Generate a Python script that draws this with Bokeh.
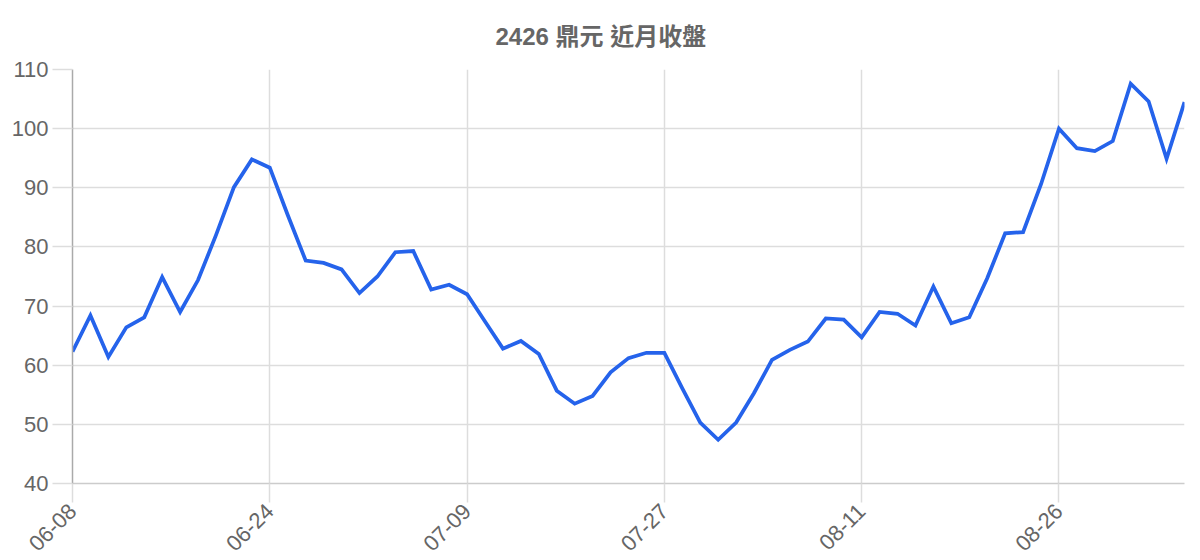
import math
from bokeh.plotting import figure
from bokeh.models import FixedTicker, Range1d, ColumnDataSource
from bokeh.embed import file_html
from bokeh.resources import INLINE

title_text = "2426 鼎元 近月收盤"
tick_idx = [0, 11, 22, 33, 44, 55]
tick_labels = ["06-08", "06-24", "07-09", "07-27", "08-11", "08-26"]
closes = [62.3, 68.4, 61.4, 66.4, 68.1, 74.9, 69.0, 74.4, 82.0, 90.1,
          94.8, 93.4, 85.4, 77.7, 77.3, 76.2, 72.2, 75.0, 79.1, 79.3,
          72.8, 73.6, 72.0, 67.4, 62.8, 64.1, 61.9, 55.7, 53.5, 54.8,
          58.8, 61.2, 62.1, 62.1, 56.1, 50.3, 47.4, 50.3, 55.3, 60.9,
          62.6, 64.0, 67.9, 67.7, 64.7, 69.0, 68.7, 66.7, 73.3, 67.1,
          68.1, 74.7, 82.3, 82.5, 90.6, 100.0, 96.7, 96.2, 97.9, 107.6,
          104.6, 94.9, 104.5]
y_ticks = [40, 50, 60, 70, 80, 90, 100, 110]

FONT = "Liberation Sans, Noto Sans CJK TC"

src = ColumnDataSource(dict(x=list(range(len(closes))), y=closes))

p = figure(width=1192, height=560, output_backend="svg", toolbar_location=None,
           x_range=Range1d(0, len(closes) - 1), y_range=Range1d(40, 110),
           min_border_left=72, min_border_right=8, min_border_top=69, min_border_bottom=76)
p.outline_line_color = None
p.background_fill_color = "white"
p.border_fill_color = "white"

p.title.text = title_text
p.title.align = "left"
p.title.text_font = FONT
p.title.text_font_size = "24px"
p.title.text_font_style = "bold"
p.title.text_color = "#666666"
p.title.standoff = 40
p.title.offset = 423

p.line("x", "y", source=src, line_color="#2563eb", line_width=3.75, line_join="miter")

p.xaxis.ticker = FixedTicker(ticks=tick_idx)
p.xaxis.major_label_overrides = {i: l for i, l in zip(tick_idx, tick_labels)}
p.xaxis.major_label_orientation = math.pi / 4
p.yaxis.ticker = FixedTicker(ticks=y_ticks)

for ax in (p.xaxis, p.yaxis):
    ax.major_label_text_font = FONT
    ax.major_label_text_font_size = "22px"
    ax.major_label_text_color = "#666666"
    ax.minor_tick_line_color = None
    ax.major_tick_in = 0
    ax.major_tick_line_color = "#dddddd"
    ax.major_tick_line_width = 1.5

p.xaxis.major_tick_out = 19
p.yaxis.major_tick_out = 20
p.xaxis.axis_line_color = "#cccccc"
p.xaxis.axis_line_width = 1.5
p.yaxis.axis_line_color = "#aaaaaa"
p.yaxis.axis_line_width = 1.5
p.yaxis.major_label_standoff = 4
p.xaxis.major_label_standoff = 5

p.xgrid.ticker = FixedTicker(ticks=tick_idx)
p.ygrid.ticker = FixedTicker(ticks=y_ticks)
p.grid.grid_line_color = "#dddddd"
p.grid.grid_line_width = 1.5

open("out.html", "w").write(file_html(p, INLINE))
